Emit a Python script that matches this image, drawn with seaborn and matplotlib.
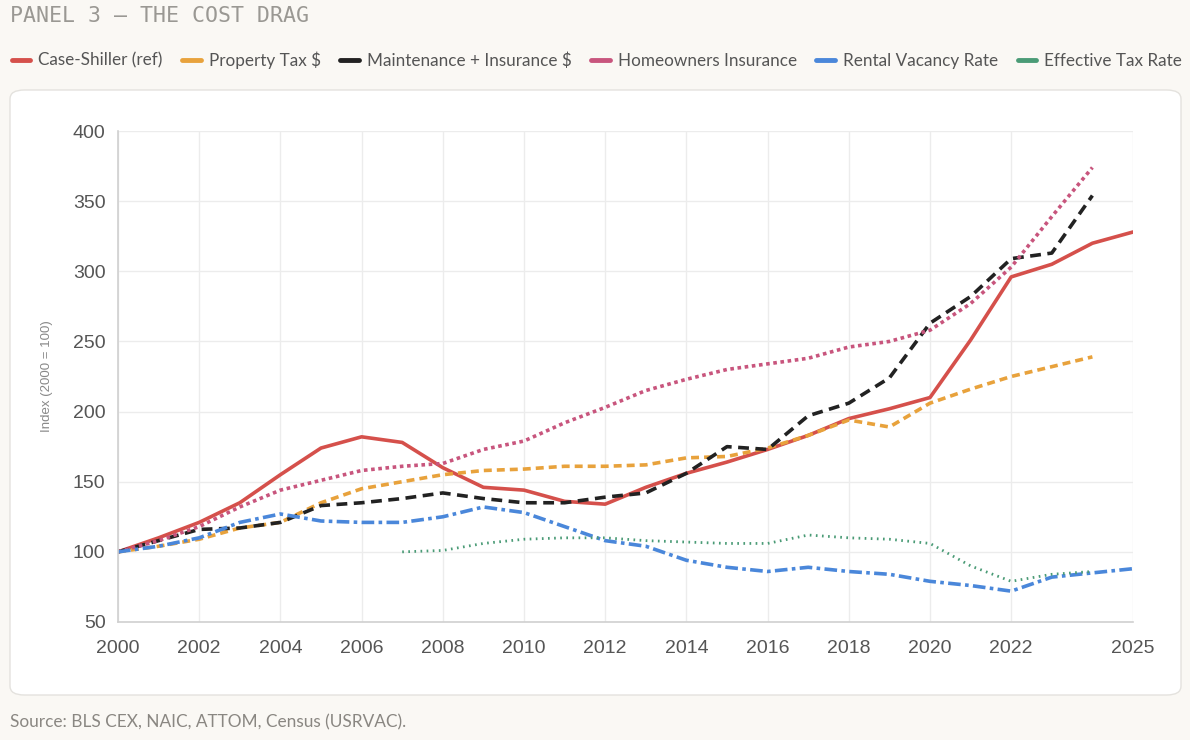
import matplotlib
matplotlib.use("Agg")
import matplotlib.pyplot as plt
from matplotlib.lines import Line2D
from matplotlib.patches import FancyBboxPatch
import pandas as pd
import seaborn as sns

# values (index, 2000 = 100)
years = list(range(2000, 2026))
case_shiller = [100, 110, 121, 135, 155, 174, 182, 178, 160, 146, 144, 136, 134,
                146, 156, 164, 173, 183, 195, 202, 210, 251, 296, 305, 320, 328]
property_tax = [100, 104, 109, 117, 121, 135, 145, 150, 155, 158, 159, 161, 161,
                162, 167, 168, 174, 183, 194, 189, 206, 216, 225, 232, 239]
maint_ins = [100, 108, 116, 117, 121, 133, 135, 138, 142, 138, 135, 135, 139,
             142, 156, 175, 173, 197, 206, 224, 263, 282, 309, 313, 354]
home_ins = [100, 108, 118, 132, 144, 151, 158, 161, 163, 173, 179, 192, 203,
            215, 223, 230, 234, 238, 246, 250, 258, 277, 303, 339, 374]
vacancy = [100, 104, 110, 121, 127, 122, 121, 121, 125, 132, 128, 118, 108,
           104, 94, 89, 86, 89, 86, 84, 79, 76, 72, 82, 85, 88]
tax_years = list(range(2007, 2025))
eff_tax = [100, 101, 106, 109, 110, 110, 108, 107, 106, 106, 112, 110, 109,
           106, 90, 79, 84, 86]

series = [
    ("Case-Shiller (ref)", years, case_shiller, "#d5504b", "-", 2.6),
    ("Property Tax $", years[:25], property_tax, "#e8a23c", (0, (2.2, 1.4)), 2.6),
    ("Maintenance + Insurance $", years[:25], maint_ins, "#222222", (0, (3.0, 1.8)), 2.6),
    ("Homeowners Insurance", years[:25], home_ins, "#c8557d", (0, (1.0, 1.0)), 2.6),
    ("Rental Vacancy Rate", years, vacancy, "#4a87da", (0, (3.5, 1.2, 1.0, 1.2)), 2.6),
    ("Effective Tax Rate", tax_years, eff_tax, "#4a9b76", (0, (0.6, 1.6)), 2.0),
]

bg = "#faf8f4"
sns.set_theme(style="white")
plt.rcParams["font.family"] = ["Liberation Sans", "DejaVu Sans"]

fig = plt.figure(figsize=(11.9, 7.4), dpi=100, facecolor=bg)

# white card behind the chart
card = FancyBboxPatch((10 / 1190, 45 / 740), 1171 / 1190, 605 / 740,
                      boxstyle="round,pad=0,rounding_size=0.012",
                      transform=fig.transFigure, facecolor="white",
                      edgecolor="#e4e2de", linewidth=1.0, zorder=-5)
fig.patches.append(card)

ax = fig.add_axes([118 / 1190, 1 - 622 / 740, 1015 / 1190, 491 / 740])
ax.set_zorder(2)
ax.set_facecolor("white")

for name, xs, ys, color, ls, lw in series:
    df = pd.DataFrame({"year": xs, "value": ys})
    sns.lineplot(data=df, x="year", y="value", ax=ax, color=color,
                 linestyle=ls, linewidth=lw, legend=False)

ax.set_xlim(2000, 2025)
ax.set_ylim(50, 400)
ax.set_xticks(list(range(2000, 2023, 2)) + [2025])
ax.set_yticks(range(50, 401, 50))
ax.grid(True, color="#ececec", linewidth=1.0)
ax.set_axisbelow(True)
for side in ["top", "right"]:
    ax.spines[side].set_visible(False)
for side in ["left", "bottom"]:
    ax.spines[side].set_color("#d0d0d0")
    ax.spines[side].set_linewidth(1.2)
ax.tick_params(axis="both", length=0, labelsize=14, colors="#555555", pad=9)
ax.tick_params(axis="x", pad=13)
ax.set_xlabel("")
ax.set_ylabel("Index (2000 = 100)", fontsize=9.5, color="#888888", labelpad=14)

fig.text(10 / 1190, 1 - 16 / 740, "PANEL 3 — THE COST DRAG", fontsize=15.5,
         family=["DejaVu Sans Mono"], color="#9a9893",
         va="center", ha="left")

handles = [Line2D([0], [0], color=c, linewidth=3.5) for _, _, _, c, _, _ in series]
labels = [s[0] for s in series]
fig.legend(handles, labels, loc="center left", bbox_to_anchor=(-2 / 1190, 1 - 60 / 740),
           ncol=6, frameon=False, handlelength=1.1, handletextpad=0.45,
           columnspacing=1.15, borderpad=0.3,
           prop={"family": ["Lato", "DejaVu Sans"], "size": 12.3},
           labelcolor="#555555")

fig.text(10 / 1190, 1 - 722 / 740, "Source: BLS CEX, NAIC, ATTOM, Census (USRVAC).",
         fontsize=12.4, family=["Lato", "DejaVu Sans"], color="#8a8782",
         va="center", ha="left")

fig.savefig("out.png", dpi=100, facecolor=bg)
